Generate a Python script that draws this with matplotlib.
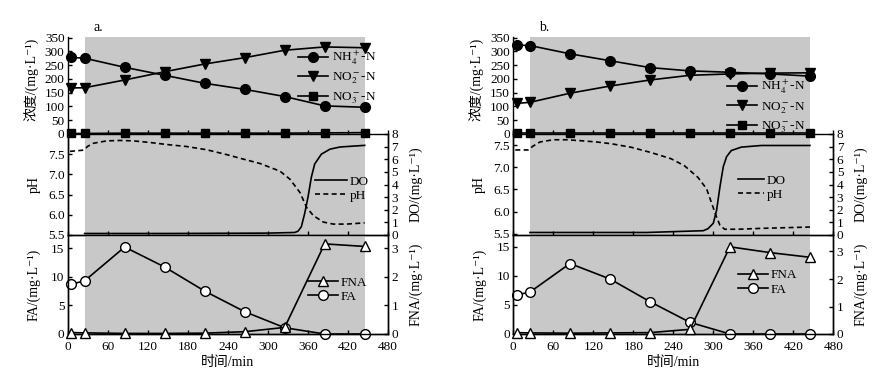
import numpy as np
import matplotlib
matplotlib.use("Agg")
import matplotlib.pyplot as plt

plt.rcParams['font.family'] = ['Liberation Serif', 'Noto Sans CJK SC', 'DejaVu Serif']
plt.rcParams['mathtext.fontset'] = 'stix'
plt.rcParams['font.size'] = 9.5
plt.rcParams['axes.linewidth'] = 1.0

# Probenahmezeitpunkte (min)
t = [5, 25, 85, 145, 205, 265, 325, 385, 445]

# a.
nh4_a = [278, 275, 242, 213, 184, 162, 136, 102, 97]
no2_a = [167, 168, 196, 226, 254, 277, 304, 316, 313]
no3_a = [2, 2, 3, 3, 3, 3, 3, 4, 5]
fa_a = [8.7, 9.3, 15.2, 11.7, 7.5, 3.9, 1.1, 0, 0]
fna_a = [0.05, 0.04, 0.02, 0.02, 0.03, 0.08, 0.23, 3.15, 3.06]
ph_a_t = [3, 23, 30, 38, 58, 78, 98, 123, 148, 178, 208, 238, 258, 288, 318, 333, 348, 358, 368, 383, 398, 418, 445]
ph_a = [7.57, 7.6, 7.7, 7.77, 7.83, 7.84, 7.83, 7.79, 7.74, 7.69, 7.61, 7.49, 7.40, 7.27, 7.08, 6.88, 6.55, 6.18, 5.98, 5.82, 5.77, 5.77, 5.80]
do_a_t = [25, 150, 300, 340, 345, 350, 355, 360, 365, 370, 380, 393, 408, 445]
do_a = [0.12, 0.12, 0.15, 0.2, 0.3, 0.65, 1.7, 3.0, 4.57, 5.62, 6.4, 6.8, 6.97, 7.1]

# b.
nh4_b = [323, 321, 291, 266, 241, 229, 224, 218, 210]
no2_b = [111, 115, 148, 174, 196, 213, 218, 221, 222]
no3_b = [3, 3, 3, 3, 3, 3, 3, 3, 3]
fa_b = [6.7, 7.2, 12.1, 9.45, 5.55, 2.0, 0, 0, 0]
fna_b = [0.05, 0.04, 0.03, 0.04, 0.05, 0.17, 3.17, 2.96, 2.79]
ph_b_t = [3, 22, 30, 40, 60, 80, 100, 125, 147, 177, 207, 237, 257, 277, 290, 297, 305, 310, 317, 337, 372, 397, 445]
ph_b = [7.39, 7.39, 7.48, 7.57, 7.62, 7.62, 7.60, 7.57, 7.53, 7.45, 7.33, 7.19, 7.03, 6.77, 6.51, 6.21, 5.87, 5.69, 5.60, 5.60, 5.62, 5.63, 5.65]
do_b_t = [25, 100, 200, 285, 292, 300, 305, 310, 315, 320, 327, 342, 372, 445]
do_b = [0.2, 0.2, 0.2, 0.34, 0.5, 0.93, 1.98, 3.83, 5.42, 6.21, 6.69, 6.96, 7.09, 7.09]

GRAU = '#c8c8c8'
W, H = 892, 382
EINHEIT = '/(mg·L\u207b\u00b9)'


def px(x0, y0, x1, y1):
    # Pixelrechteck -> Figurkoordinaten
    return [x0 / W, 1 - y1 / H, (x1 - x0) / W, (y1 - y0) / H]


def panel(fig, x0, d, tag, ph_lim, fa_lim, fna_lim, leg):
    x1 = x0 + 320
    ax1 = fig.add_axes(px(x0, 37, x1, 134))
    ax2 = fig.add_axes(px(x0, 134, x1, 235))
    ax3 = fig.add_axes(px(x0, 235, x1, 334))
    ax1.set_zorder(5)
    for ax in (ax1, ax2, ax3):
        ax.set_facecolor('none')
        ax.axvspan(25, 445, color=GRAU, lw=0, zorder=0)
        ax.set_xlim(0, 480)
        ax.set_xticks(range(0, 481, 60))
        ax.tick_params(direction='in', length=3, width=1, pad=2.5)
        ax.spines['top'].set_visible(False)
    ax1.spines['right'].set_visible(False)
    ax1.tick_params(labelbottom=False)
    ax2.tick_params(labelbottom=False)

    # Konzentrationen
    kw = dict(color='k', lw=1.2, clip_on=False, zorder=4)
    ax1.plot(t, d['nh4'], marker='o', ms=7, label=r'NH$_4^+$-N', **kw)
    ax1.plot(t, d['no2'], marker='v', ms=7, label=r'NO$_2^-$-N', **kw)
    ax1.plot(t, d['no3'], marker='s', ms=5.5, label=r'NO$_3^-$-N', **kw)
    ax1.set_ylim(0, 352)
    ax1.set_yticks(range(0, 351, 50))
    ax1.set_ylabel('浓度' + EINHEIT, fontsize=10)
    ax1.yaxis.set_label_coords(-0.09, 0.56)
    ax1.legend(loc='upper left', bbox_to_anchor=leg[0], frameon=False, borderpad=0,
               borderaxespad=0, handlelength=2.3, handletextpad=0.25, labelspacing=0.3,
               fontsize=9.5)
    ax1.text(0.08, 1.03, tag, transform=ax1.transAxes, fontsize=10, va='bottom')

    # pH / DO
    ax2b = ax2.twinx()
    ax2b.set_facecolor('none')
    ax2b.spines['top'].set_visible(False)
    ax2b.tick_params(direction='in', length=3, width=1, pad=2.5)
    l_do, = ax2b.plot(d['do_t'], d['do'], color='k', lw=1.2, label='DO')
    l_ph, = ax2.plot(d['ph_t'], d['ph'], color='k', lw=1.2, ls=(0, (3, 2)), label='pH')
    ax2.set_ylim(*ph_lim)
    ax2.set_yticks([5.5, 6.0, 6.5, 7.0, 7.5])
    ax2.set_yticklabels(['5.5', '6.0', '6.5', '7.0', '7.5'])
    ax2b.set_ylim(0, 8)
    ax2b.set_yticks(range(0, 9))
    ax2.set_ylabel('pH', fontsize=10)
    ax2.yaxis.set_label_coords(-0.085, 0.5)
    ax2b.set_ylabel('DO' + EINHEIT, fontsize=10)
    ax2b.yaxis.set_label_coords(1.065, 0.5)
    ax2b.legend([l_do, l_ph], ['DO', 'pH'], loc='upper left', bbox_to_anchor=leg[1],
                frameon=False, borderpad=0, borderaxespad=0, handlelength=leg[3],
                handletextpad=0.2, labelspacing=0.15, fontsize=9.5)

    # FA / FNA
    ax3b = ax3.twinx()
    ax3b.set_facecolor('none')
    ax3b.spines['top'].set_visible(False)
    ax3b.tick_params(direction='in', length=3, width=1, pad=2.5)
    l_fa, = ax3.plot(t, d['fa'], color='k', lw=1.2, marker='o', ms=7, mfc='white',
                     clip_on=False, zorder=4, label='FA')
    l_fna, = ax3b.plot(t, d['fna'], color='k', lw=1.2, marker='^', ms=6.5, mfc='white',
                       clip_on=False, zorder=4, label='FNA')
    ax3.set_ylim(*fa_lim)
    ax3.set_yticks([0, 5, 10, 15])
    ax3b.set_ylim(*fna_lim)
    ax3b.set_yticks([0, 1, 2, 3])
    ax3.set_ylabel('FA' + EINHEIT, fontsize=10)
    ax3.yaxis.set_label_coords(-0.085, 0.5)
    ax3b.set_ylabel('FNA' + EINHEIT, fontsize=10)
    ax3b.yaxis.set_label_coords(1.065, 0.5)
    ax3.set_xlabel('时间/min', fontsize=10, labelpad=2)
    ax3.tick_params(axis='x', pad=5)
    ax3b.legend([l_fna, l_fa], ['FNA', 'FA'], loc='upper left', bbox_to_anchor=leg[2],
                frameon=False, borderpad=0, borderaxespad=0, handlelength=2.3,
                handletextpad=0.2, labelspacing=0.15, fontsize=9.5)


fig = plt.figure(figsize=(W / 100, H / 100), dpi=100)

da = dict(nh4=nh4_a, no2=no2_a, no3=no3_a, fa=fa_a, fna=fna_a,
          ph_t=ph_a_t, ph=ph_a, do_t=do_a_t, do=do_a)
db = dict(nh4=nh4_b, no2=no2_b, no3=no3_b, fa=fa_b, fna=fna_b,
          ph_t=ph_b_t, ph=ph_b, do_t=do_b_t, do=do_b)

panel(fig, 68, da, 'a.', (5.5, 8.0), (0, 17.3), (0, 3.46),
      [(0.719, 0.88), (0.772, 0.59), (0.75, 0.58), 2.4])
panel(fig, 513.3, db, 'b.', (5.47, 7.75), (0, 17.0), (0, 3.6),
      [(0.668, 0.58), (0.702, 0.60), (0.702, 0.655), 2.0])

fig.savefig('out.png', dpi=100, facecolor='white')
